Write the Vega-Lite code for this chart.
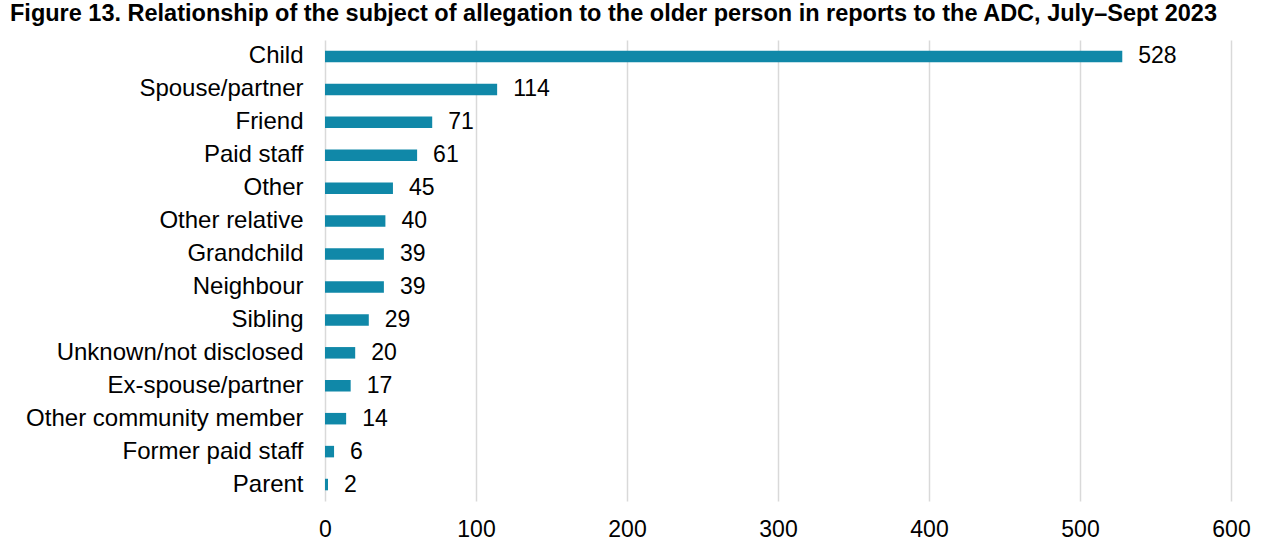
{
  "$schema": "https://vega.github.io/schema/vega-lite/v6.json",
  "width": 906,
  "height": 461,
  "autosize": {"type": "none"},
  "padding": {"left": 325, "top": 40, "right": 35, "bottom": 48},
  "background": "white",
  "title": {
    "text": "Figure 13. Relationship of the subject of allegation to the older person in reports to the ADC, July–Sept 2023",
    "anchor": "start",
    "frame": "group",
    "orient": "top",
    "offset": 0,
    "baseline": "alphabetic",
    "dx": -315,
    "dy": 4,
    "font": "Liberation Sans",
    "fontSize": 23.5,
    "fontWeight": "bold",
    "color": "#000000"
  },
  "data": {
    "values": [
      {"relationship": "Child", "count": 528},
      {"relationship": "Spouse/partner", "count": 114},
      {"relationship": "Friend", "count": 71},
      {"relationship": "Paid staff", "count": 61},
      {"relationship": "Other", "count": 45},
      {"relationship": "Other relative", "count": 40},
      {"relationship": "Grandchild", "count": 39},
      {"relationship": "Neighbour", "count": 39},
      {"relationship": "Sibling", "count": 29},
      {"relationship": "Unknown/not disclosed", "count": 20},
      {"relationship": "Ex-spouse/partner", "count": 17},
      {"relationship": "Other community member", "count": 14},
      {"relationship": "Former paid staff", "count": 6},
      {"relationship": "Parent", "count": 2}
    ]
  },
  "encoding": {
    "y": {
      "field": "relationship",
      "type": "nominal",
      "sort": null,
      "scale": {"paddingInner": 0.65, "paddingOuter": 0.325},
      "axis": {
        "title": null,
        "ticks": false,
        "domain": false,
        "labelPadding": 22,
        "labelFont": "Liberation Sans",
        "labelFontSize": 24,
        "labelColor": "#000000",
        "labelLimit": 400
      }
    },
    "x": {
      "field": "count",
      "type": "quantitative",
      "scale": {"domain": [0, 600], "nice": false},
      "axis": {
        "title": null,
        "values": [0, 100, 200, 300, 400, 500, 600],
        "ticks": false,
        "domain": false,
        "grid": true,
        "gridColor": "#d9d9d9",
        "gridWidth": 1.5,
        "labelPadding": 17,
        "labelFont": "Liberation Sans",
        "labelFontSize": 23,
        "labelColor": "#000000",
        "labelFlush": false
      }
    }
  },
  "layer": [
    {"mark": {"type": "bar", "color": "#1088a8"}},
    {
      "mark": {
        "type": "text",
        "align": "left",
        "baseline": "middle",
        "dx": 16,
        "font": "Liberation Sans",
        "fontSize": 23,
        "color": "#000000"
      },
      "encoding": {"text": {"field": "count", "type": "quantitative"}}
    }
  ],
  "config": {"view": {"stroke": null}}
}
